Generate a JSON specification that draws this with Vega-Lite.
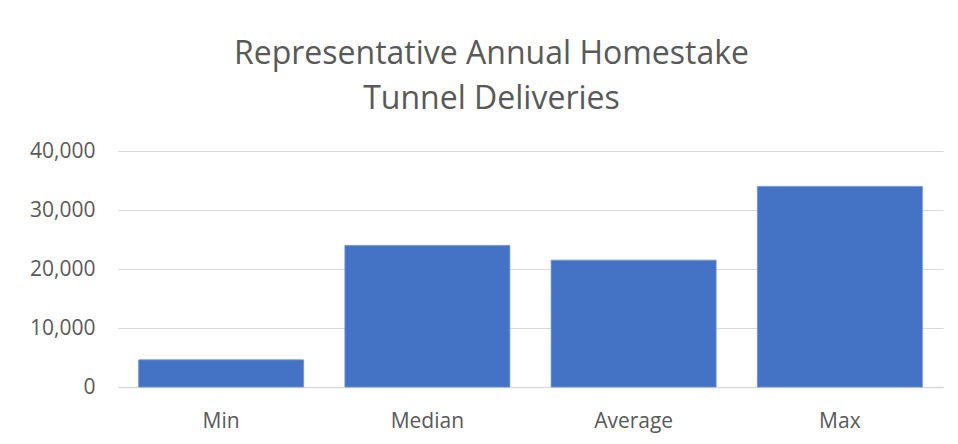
{
  "$schema": "https://vega.github.io/schema/vega-lite/v6.json",
  "width": 825,
  "height": 236,
  "autosize": {"type": "none"},
  "padding": {"left": 118, "top": 151, "right": 15, "bottom": 57},
  "background": "white",
  "title": {
    "text": ["Representative Annual Homestake", "Tunnel Deliveries"],
    "font": "Open Sans",
    "fontSize": 32,
    "fontWeight": "normal",
    "color": "#595959",
    "anchor": "middle",
    "baseline": "alphabetic",
    "dx": -39,
    "dy": 45,
    "offset": 44,
    "lineHeight": 45
  },
  "data": {
    "values": [
      {"stat": "Min", "value": 4600},
      {"stat": "Median", "value": 24000},
      {"stat": "Average", "value": 21500},
      {"stat": "Max", "value": 34000}
    ]
  },
  "mark": {"type": "bar", "color": "#4472C4", "stroke": "#6f93d3", "strokeWidth": 0.8},
  "encoding": {
    "x": {
      "field": "stat",
      "type": "nominal",
      "sort": null,
      "title": null,
      "scale": {"paddingInner": 0.2, "paddingOuter": 0.1},
      "axis": {
        "labelAngle": 0,
        "labelFont": "Open Sans",
        "labelFontSize": 21,
        "labelColor": "#595959",
        "labelPadding": 23,
        "ticks": false,
        "domainColor": "#d9d9d9",
        "domainWidth": 1.5
      }
    },
    "y": {
      "field": "value",
      "type": "quantitative",
      "title": null,
      "scale": {"domain": [0, 40000]},
      "axis": {
        "values": [0, 10000, 20000, 30000, 40000],
        "format": ",d",
        "labelFont": "Open Sans",
        "labelFontSize": 21,
        "labelColor": "#595959",
        "labelPadding": 23,
        "ticks": false,
        "domain": false,
        "gridColor": "#d9d9d9",
        "gridWidth": 1.2
      }
    }
  },
  "config": {"view": {"stroke": null}}
}
